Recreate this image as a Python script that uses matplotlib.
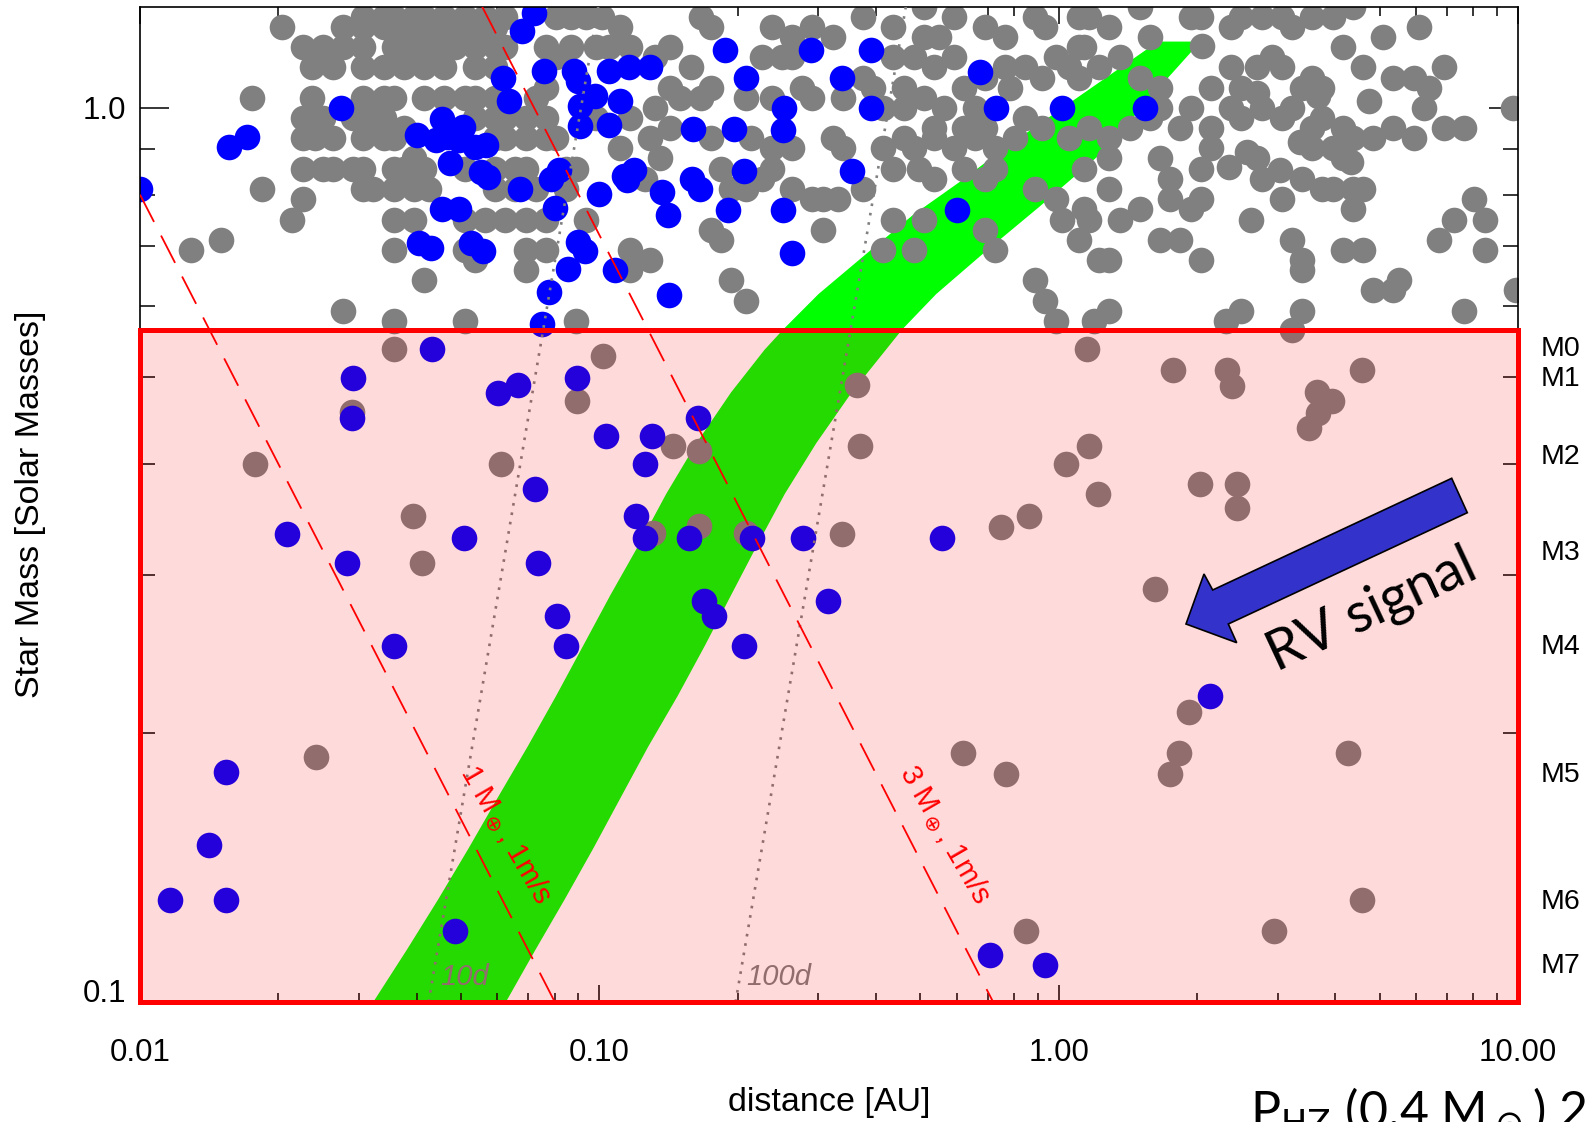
import numpy as np
import matplotlib
matplotlib.use("Agg")
import matplotlib.pyplot as plt
from matplotlib.patches import Rectangle, Polygon
from matplotlib.ticker import FixedLocator, FixedFormatter, NullFormatter

plt.rcParams['font.family'] = ['Liberation Sans', 'DejaVu Sans']
plt.rcParams['mathtext.fontset'] = 'dejavusans'

# ---- data: (distance [AU], star mass [Msun]) ----
field_top_left = [
    (0.0306, 1.264), (0.0339, 1.264), (0.0357, 1.264), (0.0395, 1.264), (0.0415, 1.264),
    (0.0460, 1.264), (0.0509, 1.264), (0.0563, 1.264), (0.0624, 1.264),
    (0.0204, 1.232), (0.0277, 1.232), (0.0306, 1.232), (0.0339, 1.232), (0.0375, 1.232),
    (0.0415, 1.232), (0.0460, 1.232), (0.0509, 1.232), (0.0563, 1.232), (0.0593, 1.232),
    (0.0226, 1.169), (0.0250, 1.169), (0.0277, 1.169), (0.0306, 1.169), (0.0357, 1.169),
    (0.0395, 1.169), (0.0437, 1.169), (0.0484, 1.169), (0.0536, 1.169), (0.0593, 1.169),
    (0.0624, 1.169), (0.0764, 1.169),
    (0.0237, 1.110), (0.0263, 1.110), (0.0306, 1.110), (0.0339, 1.110), (0.0375, 1.110),
    (0.0415, 1.110), (0.0460, 1.110), (0.0536, 1.110), (0.0593, 1.110), (0.0764, 1.053),
    (0.0175, 1.026), (0.0237, 1.026), (0.0306, 1.026), (0.0339, 1.026), (0.0357, 1.026),
    (0.0415, 1.026), (0.0460, 1.026), (0.0509, 1.026), (0.0536, 1.026), (0.0593, 1.026),
    (0.0727, 1.026),
    (0.0226, 0.974), (0.0250, 0.974), (0.0291, 0.974), (0.0322, 0.974), (0.0339, 0.974),
    (0.0536, 0.974), (0.0593, 0.974), (0.0624, 0.974), (0.0691, 0.974), (0.0764, 0.974),
    (0.0375, 0.949), (0.0395, 0.878), (0.0509, 0.855),
    (0.0226, 0.925), (0.0240, 0.925), (0.0263, 0.925), (0.0306, 0.925), (0.0339, 0.925),
    (0.0357, 0.925), (0.0593, 0.925), (0.0624, 0.925), (0.0691, 0.925), (0.0764, 0.925),
    (0.0804, 0.925),
    (0.0226, 0.855), (0.0250, 0.855), (0.0263, 0.855), (0.0291, 0.855), (0.0306, 0.855),
    (0.0357, 0.855), (0.0375, 0.855), (0.0415, 0.855), (0.0593, 0.855), (0.0656, 0.855),
    (0.0691, 0.855),
    (0.0184, 0.812), (0.0306, 0.812), (0.0322, 0.812), (0.0357, 0.812), (0.0395, 0.812),
    (0.0426, 0.812), (0.0593, 0.812), (0.0656, 0.812), (0.0727, 0.812), (0.0846, 0.812),
    (0.0226, 0.791),
    (0.0214, 0.750), (0.0357, 0.750), (0.0395, 0.750), (0.0509, 0.750), (0.0563, 0.750),
    (0.0624, 0.750), (0.0691, 0.750), (0.0764, 0.750), (0.0936, 0.750),
    (0.0129, 0.694), (0.0150, 0.712), (0.0357, 0.694), (0.0509, 0.694), (0.0536, 0.676),
    (0.0691, 0.694), (0.0764, 0.694), (0.0415, 0.642), (0.0691, 0.659),
    (0.0277, 0.593), (0.0357, 0.578), (0.0509, 0.578), (0.0890, 0.578),
]

field_top_mid = [
    (0.0804, 1.264), (0.0868, 1.264), (0.0936, 1.264), (0.1016, 1.264), (0.1107, 1.232),
    (0.1428, 1.169), (0.1663, 1.264), (0.1750, 1.232), (0.2374, 1.232), (0.2628, 1.200),
    (0.2909, 1.232), (0.3220, 1.200), (0.3751, 1.264), (0.4369, 1.232), (0.5089, 1.298),
    (0.549, 1.200), (0.5928, 1.264), (0.6905, 1.232), (0.7638, 1.200), (0.890, 1.264),
    (0.936, 1.232), (1.107, 1.264),
    (0.0804, 1.139), (0.0868, 1.169), (0.0985, 1.169), (0.1052, 1.169), (0.1165, 1.169),
    (0.1323, 1.139), (0.1580, 1.110), (0.1428, 1.053), (0.1663, 1.026), (0.1750, 1.053),
    (0.2256, 1.139), (0.2497, 1.139), (0.2628, 1.139), (0.2765, 1.053), (0.3751, 1.081),
    (0.3947, 1.053), (0.4369, 1.139), (0.4837, 1.139), (0.5089, 1.200), (0.5355, 1.110),
    (0.5928, 1.139), (0.6237, 1.053), (0.6905, 1.081), (0.7638, 1.110), (0.784, 1.053),
    (0.846, 1.110), (0.918, 1.081), (0.985, 1.139), (1.052, 1.110), (1.107, 1.169),
    (1.107, 1.081),
    (0.1323, 1.000), (0.1502, 1.026), (0.2090, 1.026), (0.2374, 1.026), (0.2909, 1.026),
    (0.3388, 1.026), (0.4153, 1.000), (0.4597, 1.053), (0.4597, 1.000), (0.5089, 1.026),
    (0.5355, 0.949), (0.5634, 1.000), (0.6237, 0.949), (0.6562, 1.000), (0.6905, 0.949),
    (0.846, 0.974), (0.918, 0.949), (1.052, 0.925), (1.165, 0.949),
    (0.0985, 0.974), (0.1165, 0.974), (0.1428, 0.949), (0.1290, 0.925), (0.1107, 0.901),
    (0.1357, 0.878),
    (0.1750, 0.925), (0.2144, 0.925), (0.2374, 0.901), (0.2628, 0.901), (0.3220, 0.925),
    (0.3388, 0.901), (0.4153, 0.901), (0.4597, 0.925), (0.4837, 0.901), (0.5355, 0.925),
    (0.5928, 0.901), (0.6562, 0.925), (0.7265, 0.901), (0.804, 0.925),
    (0.0846, 0.855), (0.0890, 0.855), (0.1258, 0.833), (0.1841, 0.855), (0.1937, 0.812),
    (0.2090, 0.812), (0.2256, 0.833), (0.2374, 0.855), (0.2628, 0.812), (0.2909, 0.791),
    (0.3061, 0.791), (0.330, 0.791), (0.3751, 0.812), (0.4369, 0.855), (0.496, 0.855),
    (0.5355, 0.833), (0.6237, 0.855), (0.6905, 0.833), (0.7265, 0.855), (0.890, 0.812),
    (0.985, 0.791), (1.016, 0.750), (1.107, 0.712), (1.165, 0.750), (0.4369, 0.750),
    (0.5089, 0.750), (0.6905, 0.731),
    (0.1165, 0.694), (0.1290, 0.676), (0.1165, 0.659), (0.1750, 0.731), (0.1841, 0.712),
    (0.1937, 0.642), (0.2090, 0.609), (0.3061, 0.731), (0.4153, 0.694), (0.4837, 0.694),
    (0.7265, 0.694), (0.890, 0.642), (0.936, 0.609), (0.985, 0.578), (1.195, 0.578),
    (1.226, 0.676),
]

field_top_right = [
    (1.165, 1.264), (1.290, 1.232), (1.502, 1.298), (1.580, 1.200), (1.937, 1.264),
    (2.038, 1.264), (2.374, 1.232), (2.497, 1.264), (2.765, 1.264), (3.061, 1.264),
    (3.220, 1.232), (3.565, 1.264), (3.947, 1.264), (4.369, 1.298), (6.08, 1.232),
    (1.136, 1.169), (1.226, 1.110), (1.357, 1.139), (1.502, 1.081), (1.663, 1.053),
    (2.144, 1.053), (2.374, 1.110), (2.497, 1.053), (2.696, 1.110), (2.909, 1.139),
    (3.061, 1.110), (3.388, 1.053), (3.565, 1.081), (3.751, 1.053), (4.153, 1.169),
    (4.597, 1.110), (5.089, 1.200), (5.355, 1.081), (5.928, 1.081), (6.40, 1.053),
    (6.905, 1.110), (2.048, 1.174), (2.708, 1.038), (3.674, 1.030), (4.737, 1.017),
    (1.290, 0.925), (1.428, 0.949), (1.580, 0.974), (1.663, 1.000),
    (1.841, 0.949), (1.937, 1.000), (2.144, 0.949), (2.374, 1.000), (2.497, 0.974),
    (2.765, 1.000), (3.061, 0.974), (3.220, 1.000), (3.565, 0.949), (3.751, 0.974),
    (4.153, 0.949), (4.369, 0.925), (4.837, 0.925), (5.355, 0.949), (5.928, 0.925),
    (6.237, 1.000), (6.905, 0.949), (7.638, 0.949), (9.75, 1.000),
    (2.574, 0.893), (3.028, 0.852), (3.353, 0.916), (2.349, 0.858), (4.323, 0.870),
    (1.136, 0.855), (1.290, 0.878), (1.663, 0.878), (1.750, 0.833), (2.038, 0.855),
    (2.144, 0.901), (2.696, 0.878), (2.765, 0.833), (3.388, 0.833), (3.751, 0.812),
    (3.947, 0.812), (4.369, 0.812), (4.597, 0.812), (3.565, 0.901), (3.947, 0.901),
    (4.153, 0.878),
    (1.136, 0.770), (1.290, 0.812), (1.357, 0.750), (1.502, 0.770), (1.663, 0.712),
    (1.841, 0.712), (1.750, 0.791), (1.937, 0.770), (2.038, 0.791), (2.628, 0.750),
    (3.061, 0.791), (3.220, 0.712), (3.388, 0.676), (4.153, 0.694), (4.597, 0.694),
    (4.369, 0.770), (6.73, 0.712), (7.265, 0.750), (8.04, 0.791), (8.46, 0.750),
    (8.46, 0.694), (1.290, 0.676), (2.038, 0.676),
    (1.290, 0.593), (2.31, 0.578), (2.497, 0.593), (3.388, 0.659), (3.388, 0.593),
    (4.837, 0.625), (5.355, 0.625), (5.5, 0.642), (7.638, 0.593), (9.9, 0.625),
    (3.220, 0.565),
]

field_lower = [
    (0.0358, 0.537), (0.1017, 0.528), (0.0896, 0.470), (0.0289, 0.457), (0.0178, 0.400),
    (0.0610, 0.400), (0.0392, 0.350), (0.0412, 0.310), (0.0242, 0.188), (0.1446, 0.419),
    (0.165, 0.413), (0.131, 0.335), (0.165, 0.341), (0.209, 0.335), (0.338, 0.334),
    (0.364, 0.490), (0.369, 0.419), (1.151, 0.537), (1.777, 0.509), (2.33, 0.509),
    (2.384, 0.489), (4.57, 0.509), (3.65, 0.481), (3.93, 0.470), (3.67, 0.456),
    (3.50, 0.439), (1.163, 0.419), (1.039, 0.400), (1.216, 0.370), (2.03, 0.380),
    (2.44, 0.380), (2.45, 0.357), (1.62, 0.290), (1.92, 0.211), (1.83, 0.190),
    (1.75, 0.180), (4.27, 0.190), (4.57, 0.130), (2.95, 0.120), (0.619, 0.190),
    (0.769, 0.180), (0.850, 0.120), (0.862, 0.350), (0.749, 0.340),
]

hosts_top = [
    (0.0100, 0.811), (0.0156, 0.905), (0.0171, 0.928), (0.0274, 0.999),
    (0.0401, 0.933), (0.0455, 0.973), (0.0441, 0.921), (0.0467, 0.928), (0.0496, 0.921),
    (0.0506, 0.953), (0.0536, 0.905), (0.0566, 0.909), (0.0472, 0.868), (0.0552, 0.849),
    (0.0572, 0.838), (0.0673, 0.811), (0.0784, 0.832), (0.0816, 0.853), (0.0800, 0.772),
    (0.0998, 0.802), (0.0455, 0.771), (0.0496, 0.771), (0.0405, 0.706), (0.0430, 0.697),
    (0.0525, 0.706), (0.0557, 0.691), (0.0899, 0.708), (0.0930, 0.691), (0.0617, 1.080),
    (0.0637, 1.019), (0.0680, 1.218), (0.0719, 1.276), (0.0757, 1.099), (0.0881, 1.099),
    (0.0899, 1.071), (0.0908, 1.004), (0.0908, 0.955), (0.0980, 1.030), (0.1052, 1.099),
    (0.116, 1.111), (0.129, 1.111), (0.111, 1.019), (0.1052, 0.957), (0.0750, 0.574),
    (0.0778, 0.622), (0.0855, 0.660), (0.108, 0.658), (0.142, 0.618), (0.263, 0.689),
    (0.600, 0.769), (0.251, 0.769), (0.191, 0.769), (0.141, 0.759), (0.137, 0.806),
    (0.166, 0.811), (0.159, 0.832), (0.115, 0.830), (0.119, 0.852), (0.113, 0.839),
    (0.206, 0.850), (0.355, 0.850), (0.160, 0.948), (0.196, 0.948), (0.251, 0.946),
    (0.252, 0.999), (0.391, 0.999), (0.730, 0.999), (1.015, 0.999), (1.541, 0.999),
    (0.673, 1.097), (0.209, 1.080), (0.337, 1.080), (0.1875, 1.161), (0.289, 1.161),
    (0.391, 1.161),
]

hosts_lower = [
    (0.0432, 0.538), (0.0291, 0.499), (0.0289, 0.450), (0.0209, 0.334), (0.0282, 0.310),
    (0.0357, 0.250), (0.0154, 0.181), (0.0141, 0.150), (0.0116, 0.130), (0.0154, 0.130),
    (0.0486, 0.120), (0.0508, 0.330), (0.0603, 0.480), (0.0664, 0.490), (0.0896, 0.499),
    (0.0724, 0.375), (0.0736, 0.310), (0.0808, 0.270), (0.0848, 0.250), (0.1035, 0.430),
    (0.126, 0.400), (0.130, 0.430), (0.120, 0.350), (0.1256, 0.330), (0.157, 0.330),
    (0.164, 0.450), (0.169, 0.281), (0.178, 0.270), (0.215, 0.330), (0.206, 0.250),
    (0.278, 0.330), (0.314, 0.281), (0.556, 0.330), (2.14, 0.220), (0.710, 0.113),
    (0.933, 0.110),
]

# habitable zone edges
hz_inner_mass = [0.100, 0.1144, 0.1303, 0.1485, 0.1693, 0.1928, 0.2197, 0.2503, 0.2852,
                 0.3249, 0.3703, 0.4219, 0.4808, 0.5366, 0.5652, 0.6194, 0.6876, 0.7592,
                 0.8307, 0.8811, 0.9368, 0.9948, 1.0563, 1.1865]
hz_inner_dist = [0.0322, 0.0381, 0.0446, 0.0519, 0.0601, 0.0697, 0.0804, 0.0922, 0.1057,
                 0.1220, 0.1399, 0.1628, 0.1936, 0.2290, 0.2513, 0.3002, 0.3822, 0.4819,
                 0.6173, 0.7178, 0.8487, 1.0041, 1.188, 1.645]
hz_outer_mass = [0.100, 0.1144, 0.1303, 0.1485, 0.1693, 0.1928, 0.2197, 0.2503, 0.2852,
                 0.3249, 0.3703, 0.4219, 0.4808, 0.5366, 0.5652, 0.6194, 0.6876, 0.7752,
                 0.8811, 0.9479, 1.0716, 1.1865]
hz_outer_dist = [0.0626, 0.0726, 0.0841, 0.0970, 0.1113, 0.1276, 0.1479, 0.1697, 0.1936,
                 0.2210, 0.2535, 0.2968, 0.3545, 0.4208, 0.4563, 0.5416, 0.6855, 0.9074,
                 1.211, 1.381, 1.704, 2.036]

# 1 m/s RV limits and orbital period lines (end points)
rv1_dist, rv1_mass = [0.010, 0.080], [0.80, 0.10]
rv3_dist, rv3_mass = [0.0555, 0.72], [1.30, 0.10]
p10_dist, p10_mass = [0.0425, 0.0995], [0.10, 1.30]
p100_dist, p100_mass = [0.198, 0.465], [0.10, 1.30]

mdwarf_limit = 0.565
spectral_types = ['M0', 'M1', 'M2', 'M3', 'M4', 'M5', 'M6', 'M7']
spectral_mass = [0.538, 0.498, 0.4075, 0.318, 0.2494, 0.1793, 0.1295, 0.1097]

x_ticks = [0.01, 0.1, 1.0, 10.0]
x_tick_labels = ['0.01', '0.10', '1.00', '10.00']

W, H = 1590, 1122


def unzip(pairs):
    arr = np.array(pairs)
    return arr[:, 0], arr[:, 1]


def px(x, y):
    return (x / W, 1 - y / H)


field_d, field_m = unzip(field_top_left + field_top_mid + field_top_right + field_lower)
host_d, host_m = unzip(hosts_top + hosts_lower)

fig = plt.figure(figsize=(W / 100, H / 100), dpi=100)
ax = fig.add_axes([140 / W, 1 - 1002 / H, 1378 / W, 995 / H])
ax.set_xscale('log')
ax.set_yscale('log')
ax.set_xlim(0.01, 10)
ax.set_ylim(0.1, 1.297)

ax.fill(np.concatenate([hz_inner_dist, hz_outer_dist[::-1]]),
        np.concatenate([hz_inner_mass, hz_outer_mass[::-1]]),
        color='#00ff00', lw=0, zorder=1)

ax.scatter(field_d, field_m, s=340, color='#808080', linewidths=0, zorder=2)
ax.scatter(host_d, host_m, s=340, color='#0000ff', linewidths=0, zorder=2.5)

for d, m in [(p10_dist, p10_mass), (p100_dist, p100_mass)]:
    ax.plot(d, m, color='#808080', lw=1.9, linestyle=(0, (1, 2.6)), zorder=3)
ax.text(0.0450, 0.1045, '10d', color='#808080', style='italic', fontsize=21,
        ha='left', va='baseline', zorder=3)
ax.text(0.2084, 0.1045, '100d', color='#808080', style='italic', fontsize=21,
        ha='left', va='baseline', zorder=3)

for d, m in [(rv1_dist, rv1_mass), (rv3_dist, rv3_mass)]:
    ax.plot(d, m, color='red', lw=1.3, dashes=(17, 8.5), zorder=3.2)

ax.add_patch(Rectangle((0.01, 0.1), 10 - 0.01, mdwarf_limit - 0.1,
                       facecolor=(1, 0, 0, 0.145), edgecolor='red', lw=3.6,
                       zorder=4, clip_on=False))

ax.text(0.0627, 0.154, r'1 M$_\oplus$, 1m/s', color='red', fontsize=21, rotation=-60,
        rotation_mode='anchor', ha='center', va='center', zorder=5)
ax.text(0.567, 0.154, r'3 M$_\oplus$, 1m/s', color='red', fontsize=21, rotation=-60,
        rotation_mode='anchor', ha='center', va='center', zorder=5)

for lab, m in zip(spectral_types, spectral_mass):
    ax.text(1.0167, m, lab, transform=ax.get_yaxis_transform(), ha='left',
            va='center', fontsize=20.5)

# ticks
ax.xaxis.set_major_locator(FixedLocator(x_ticks))
ax.xaxis.set_major_formatter(FixedFormatter(x_tick_labels))
ax.xaxis.set_minor_locator(FixedLocator([k * 10.0 ** e for e in (-2, -1, 0) for k in range(2, 10)]))
ax.xaxis.set_minor_formatter(NullFormatter())
ax.yaxis.set_major_locator(FixedLocator([0.1, 1.0]))
ax.yaxis.set_major_formatter(FixedFormatter(['', '1.0']))
ax.yaxis.set_minor_locator(FixedLocator([0.2, 0.3, 0.4, 0.5, 0.6, 0.7, 0.8, 0.9]))
ax.yaxis.set_minor_formatter(NullFormatter())

ax.tick_params(axis='x', which='major', direction='in', length=12, width=1.1,
               top=True, pad=26, labelsize=22.5)
ax.tick_params(axis='x', which='minor', direction='in', length=6.5, width=1.1, top=True)
ax.tick_params(axis='y', which='major', direction='in', length=21, width=1.1,
               right=True, pad=10, labelsize=22.5)
ax.tick_params(axis='y', which='minor', direction='in', length=11, width=1.1, right=True)
for sp in ax.spines.values():
    sp.set_linewidth(1.2)

fig.text(*px(126, 991), '0.1', fontsize=22.5, ha='right', va='center_baseline')
fig.text(*px(829, 1102), 'distance [AU]', fontsize=24.5, ha='center', va='center')
fig.text(*px(31, 504), 'Star Mass [Solar Masses]', fontsize=24.5, rotation=90,
         ha='center', va='center')

# RV signal arrow
arrow_px = [(1451.7, 478.3), (1467.3, 512.7), (1228.3, 624.0), (1236.7, 642.7),
            (1186.0, 624.0), (1204.0, 574.0), (1212.7, 590.0)]
fig.add_artist(Polygon([px(x, y) for x, y in arrow_px], closed=True,
                       facecolor='#3333cc', edgecolor='black', lw=1.2,
                       transform=fig.transFigure, zorder=6))
fig.text(*px(1277, 671), 'RV signal', fontsize=40, family='Lato', rotation=25,
         rotation_mode='anchor', ha='left', va='baseline', zorder=7)

fig.text(*px(1250, 1127), r'P$_{\mathrm{HZ}}$ (0.4 M$_\odot$) 2', fontsize=36,
         family='Lato', ha='left', va='baseline')

fig.savefig('out.png', dpi=100)
